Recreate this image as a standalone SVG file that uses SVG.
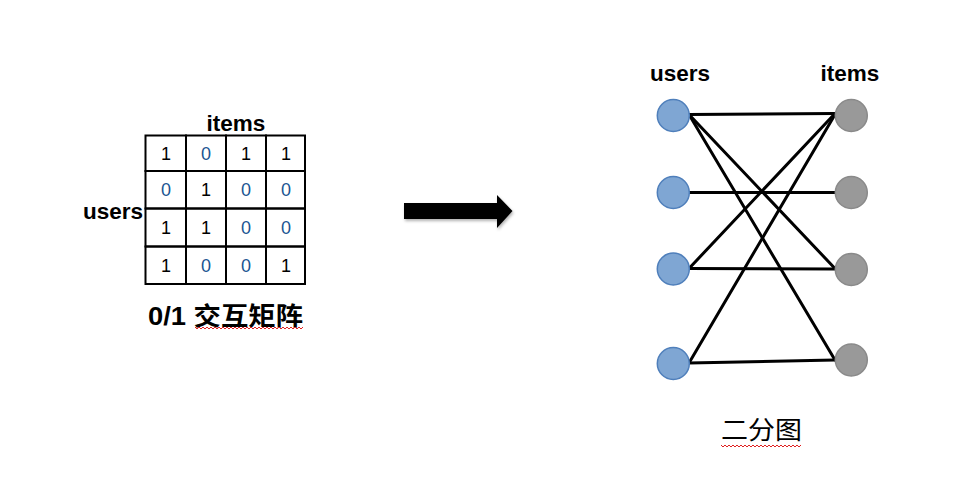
<svg xmlns="http://www.w3.org/2000/svg" width="972" height="497" viewBox="0 0 972 497">
<style>
.lbl{font-family:"Liberation Sans",Arial,sans-serif;font-weight:bold;font-size:22.5px;fill:#000}
.num{font-family:"Liberation Sans",Arial,sans-serif;font-size:18px;text-anchor:middle}
.one{fill:#000}
.zero{fill:#1a5592}
.cell{fill:none;stroke:#000;stroke-width:2}
.cap{font-family:"Liberation Sans","Noto Sans CJK SC",sans-serif;font-size:25px;fill:#000}
.user{fill:#7fa6d3;stroke:#4f7fbb;stroke-width:1.5}
.item{fill:#999;stroke:#8a8a8a;stroke-width:1.5}
.edge{stroke:#000;stroke-width:3;fill:none;stroke-linecap:round}
.squig{fill:none;stroke:#e02020;stroke-width:1}
</style>
<defs>
<filter id="sh" x="-20%" y="-50%" width="140%" height="200%">
<feDropShadow dx="1" dy="2" stdDeviation="1.5" flood-color="#000" flood-opacity="0.3"/>
</filter>
</defs>
<rect width="972" height="497" fill="#fff"/>

<g id="matrix">
<text class="lbl" x="236" y="131" text-anchor="middle">items</text>
<text class="lbl" x="143" y="219" text-anchor="end">users</text>
<g>
<rect class="cell" x="145.5" y="135.5" width="40.5" height="35.5"/>
<rect class="cell" x="186" y="135.5" width="40" height="35.5"/>
<rect class="cell" x="226" y="135.5" width="40" height="35.5"/>
<rect class="cell" x="266" y="135.5" width="39" height="35.5"/>
<rect class="cell" x="145.5" y="171" width="40.5" height="37.5"/>
<rect class="cell" x="186" y="171" width="40" height="37.5"/>
<rect class="cell" x="226" y="171" width="40" height="37.5"/>
<rect class="cell" x="266" y="171" width="39" height="37.5"/>
<rect class="cell" x="145.5" y="208.5" width="40.5" height="38"/>
<rect class="cell" x="186" y="208.5" width="40" height="38"/>
<rect class="cell" x="226" y="208.5" width="40" height="38"/>
<rect class="cell" x="266" y="208.5" width="39" height="38"/>
<rect class="cell" x="145.5" y="246.5" width="40.5" height="37.5"/>
<rect class="cell" x="186" y="246.5" width="40" height="37.5"/>
<rect class="cell" x="226" y="246.5" width="40" height="37.5"/>
<rect class="cell" x="266" y="246.5" width="39" height="37.5"/>
</g>
<text class="num one" x="166" y="159.5">1</text>
<text class="num zero" x="206" y="159.5">0</text>
<text class="num one" x="246" y="159.5">1</text>
<text class="num one" x="286" y="159.5">1</text>
<text class="num zero" x="166" y="196">0</text>
<text class="num one" x="206" y="196">1</text>
<text class="num zero" x="246" y="196">0</text>
<text class="num zero" x="286" y="196">0</text>
<text class="num one" x="166" y="233.5">1</text>
<text class="num one" x="206" y="233.5">1</text>
<text class="num zero" x="246" y="233.5">0</text>
<text class="num zero" x="286" y="233.5">0</text>
<text class="num one" x="166" y="271.5">1</text>
<text class="num zero" x="206" y="271.5">0</text>
<text class="num zero" x="246" y="271.5">0</text>
<text class="num one" x="286" y="271.5">1</text>
<text class="cap" x="148" y="325" font-weight="bold" textLength="155" lengthAdjust="spacingAndGlyphs">0/1 交互矩阵</text>
<polyline class="squig" points="195,327 197,329 199,327 201,329 203,327 205,329 207,327 209,329 211,327 213,329 215,327 217,329 219,327 221,329 223,327 225,329 227,327 229,329 231,327 233,329 235,327 237,329 239,327 241,329 243,327 245,329 247,327 249,329 251,327 253,329 255,327 257,329 259,327 261,329 263,327 265,329 267,327 269,329 271,327 273,329 275,327 277,329 279,327 281,329 283,327 285,329 287,327 289,329 291,327 293,329 295,327 297,329 299,327 301,329 303,327"/>
</g>

<g id="arrow">
<polygon points="404,203 497,203 497,195 512.5,211 497,228 497,219 404,219" fill="#000" filter="url(#sh)"/>
</g>

<g id="graph-labels">
<text class="lbl" x="680" y="81" text-anchor="middle">users</text>
<text class="lbl" x="850" y="81" text-anchor="middle">items</text>
</g>

<g id="connectors">
<line class="edge" x1="689" y1="114.5" x2="835" y2="113.5"/>
<line class="edge" x1="689" y1="114.5" x2="835" y2="268.5"/>
<line class="edge" x1="689" y1="114.5" x2="835" y2="360"/>
<line class="edge" x1="689" y1="192.5" x2="835" y2="192.5"/>
<line class="edge" x1="689" y1="268.5" x2="835" y2="113.5"/>
<line class="edge" x1="689" y1="268.5" x2="835" y2="269"/>
<line class="edge" x1="689" y1="363" x2="835" y2="114.5"/>
<line class="edge" x1="689" y1="363" x2="835" y2="360"/>
</g>

<g id="user1"><circle class="user" cx="673.3" cy="115.5" r="16"/></g>
<g id="user2"><circle class="user" cx="673.3" cy="192.5" r="16"/></g>
<g id="user3"><circle class="user" cx="673.3" cy="269" r="16"/></g>
<g id="user4"><circle class="user" cx="673.3" cy="363.5" r="16"/></g>
<g id="item1"><circle class="item" cx="851.3" cy="115.5" r="16"/></g>
<g id="item2"><circle class="item" cx="851.3" cy="192.5" r="16"/></g>
<g id="item3"><circle class="item" cx="851.3" cy="269.5" r="16"/></g>
<g id="item4"><circle class="item" cx="851.3" cy="360" r="16"/></g>

<g id="caption-graph">
<text class="cap" x="721" y="439" textLength="81" lengthAdjust="spacingAndGlyphs">二分图</text>
<polyline class="squig" points="721,445 723,447 725,445 727,447 729,445 731,447 733,445 735,447 737,445 739,447 741,445 743,447 745,445 747,447 749,445 751,447 753,445 755,447 757,445 759,447 761,445 763,447 765,445 767,447 769,445 771,447 773,445 775,447 777,445 779,447 781,445 783,447 785,445 787,447 789,445 791,447 793,445 795,447 797,445 799,447 801,445"/>
</g>
</svg>
